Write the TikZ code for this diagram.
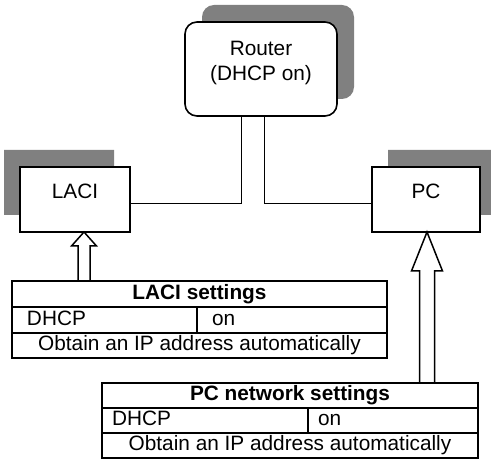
\documentclass[tikz,border=0pt]{standalone}
\usepackage{fontspec}
\setmainfont{Liberation Sans}
\usetikzlibrary{positioning,shapes.misc,shadows}
\definecolor{shadowgray}{RGB}{128,128,128}

\begin{document}
\begin{tikzpicture}[x=1pt, y=1pt,
    lbl/.style={font=\fontsize{20.8}{25}\selectfont},
    device/.style={draw, line width=1.6pt, fill=white, outer sep=0pt, inner sep=0pt},
    station/.style={device, chamfered rectangle, chamfered rectangle xsep=7pt,
      chamfered rectangle ysep=7pt, minimum height=65pt},
    cell/.style={draw, line width=1.6pt, outer sep=0pt, inner sep=0pt, minimum height=26pt,
      text height=15pt, text depth=4pt, lbl},
    headcell/.style={cell, font=\fontsize{20.8}{25}\selectfont\bfseries},
    keycell/.style={cell, text width=#1, align=left},
    wire/.style={line width=1.6pt},
    hollow/.style={draw, line width=1.5pt, fill=white, line join=miter}]
  \useasboundingbox (0,0) rectangle (491,461);

  % devices
  \node[device, rounded corners=12pt, minimum width=152pt, minimum height=94pt,
    drop shadow={shadow xshift=17pt, shadow yshift=17pt, fill=shadowgray, opacity=1},
    label={[lbl, align=center, yshift=5.5pt]center:Router\\(DHCP on)}] (router) at (261,392) {};
  \node[station, minimum width=110pt,
    drop shadow={shadow xshift=-16pt, shadow yshift=17pt, fill=shadowgray, opacity=1},
    label={[lbl, yshift=8.5pt]center:LACI}] (laci) at (75,261.5) {};
  \node[station, minimum width=108pt,
    drop shadow={shadow xshift=16pt, shadow yshift=17pt, fill=shadowgray, opacity=1},
    label={[lbl, yshift=8.5pt]center:PC}] (pc) at (426,261.5) {};

  % cables
  \draw[wire] ([xshift=-19.5pt]router.south) |- ([yshift=-4pt]laci.east);
  \draw[wire] ([xshift=3.5pt]router.south) |- ([yshift=-4pt]pc.west);

  % LACI settings table
  \node[headcell, minimum width=375pt, anchor=north west] (lacihead) at (12,180) {LACI settings};
  \node[keycell=155pt, inner xsep=15pt, below right=0pt of lacihead.south west] (lacikey) {DHCP};
  \node[keycell=160pt, inner xsep=15pt, right=0pt of lacikey] (lacival) {on};
  \node[cell, minimum width=375pt, minimum height=25pt, below right=0pt of lacikey.south west] (laciauto) {Obtain an IP address automatically};

  % PC network settings table
  \node[headcell, minimum width=376pt, minimum height=25pt, anchor=north west] (pchead) at (102,78) {PC network settings};
  \node[keycell=186pt, inner xsep=10pt, minimum height=25pt, below right=0pt of pchead.south west] (pckey) {DHCP};
  \node[keycell=150pt, inner xsep=10pt, minimum height=25pt, right=0pt of pckey] (pcval) {on};
  \node[cell, minimum width=376pt, minimum height=25pt, below right=0pt of pckey.south west] (pcauto) {Obtain an IP address automatically};

  % settings arrows
  \coordinate (lacitip) at ([xshift=9pt]laci.south);
  \coordinate (lacitail) at (lacitip |- lacihead.north);
  \draw[hollow] (lacitip) -- ++(12.5,-14) -- ++(-6.5,0) -- ([xshift=6pt]lacitail)
    -- ([xshift=-6pt]lacitail) -- ([shift={(-6,-14)}]lacitip) -- ++(-6.5,0) -- cycle;
  \coordinate (pctip) at ([xshift=1pt]pc.south);
  \coordinate (pctail) at (pctip |- pchead.north);
  \draw[hollow] (pctip) -- ++(15.5,-39) -- ++(-8,0) -- ([xshift=7.5pt]pctail)
    -- ([xshift=-7.5pt]pctail) -- ([shift={(-7.5,-39)}]pctip) -- ++(-8,0) -- cycle;
\end{tikzpicture}
\end{document}
